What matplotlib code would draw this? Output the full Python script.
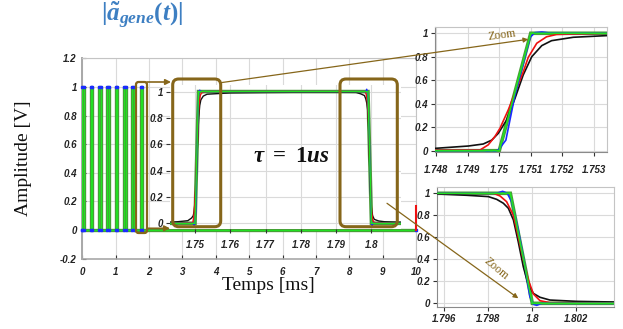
import numpy as np
import matplotlib
matplotlib.use('Agg')
import matplotlib.pyplot as plt
from matplotlib.patches import FancyBboxPatch, FancyArrowPatch
from matplotlib.transforms import Affine2D

W, H = 623, 329

# ---------------- data ----------------
# main pulse train (ms, V)
pulse_starts = [0.0, 0.25, 0.5, 0.75, 1.0, 1.25, 1.5, 1.75]
pulse_width = 0.05
pulse_amp = 1.0
t_end = 10.0
tail_t = [10.0, 10.0]
tail_red = [0.0, 0.17]

# black (slow response)
black_t = [1.7429, 1.7450, 1.74796, 1.74902, 1.74949, 1.74976, 1.74997, 1.75023, 1.7505,
           1.75076, 1.75103, 1.75135, 1.75166, 1.75235, 1.75341,
           1.7600, 1.7700, 1.7800, 1.7900,
           1.79565, 1.79702, 1.7980, 1.79838, 1.79868, 1.79891, 1.79914, 1.79936, 1.79959,
           1.79982, 1.80005, 1.80035, 1.8008, 1.80202, 1.80373, 1.8085]
black_v = [0.008, 0.012, 0.02, 0.04, 0.057, 0.09, 0.148, 0.26, 0.446,
           0.645, 0.80, 0.895, 0.937, 0.966, 0.98,
           0.99, 0.993, 0.995, 0.995,
           0.994, 0.982, 0.97, 0.945, 0.91, 0.864, 0.758, 0.56, 0.333,
           0.167, 0.09, 0.055, 0.03, 0.018, 0.012, 0.008]

# red
red_t = [1.7429, 1.74939, 1.74965, 1.74986, 1.75002, 1.75029, 1.75055, 1.75076, 1.75092,
         1.75119, 1.7515, 1.75182, 1.75341,
         1.79565, 1.79823, 1.79853, 1.79883, 1.79914, 1.79936, 1.79959, 1.79982, 1.80005,
         1.80035, 1.8008, 1.8085]
red_v = [0.0, 0.006, 0.05, 0.12, 0.19, 0.35, 0.53, 0.67, 0.795,
         0.915, 0.97, 0.99, 1.0,
         1.0, 1.0, 0.976, 0.924, 0.80, 0.606, 0.394, 0.212, 0.085,
         0.024, 0.006, 0.0]

# blue
blue_t = [1.7429, 1.74953, 1.74976, 1.74997, 1.75021, 1.7505, 1.75082, 1.75098, 1.75113,
          1.75135, 1.75161, 1.75206, 1.75341,
          1.79565, 1.79838, 1.79865, 1.79886, 1.79906, 1.79936, 1.79967, 1.79989, 1.80005,
          1.8002, 1.80042, 1.8085]
blue_v = [0.0, 0.0, -0.015, 0.006, 0.09, 0.475, 0.80, 0.966, 1.005,
          1.011, 1.002, 1.0, 1.0,
          1.0, 1.0, 1.018, 1.0, 0.924, 0.667, 0.333, 0.06, -0.009,
          -0.018, 0.0, 0.0]

# green (ideal trapezoid)
green_t = [1.7429, 1.7500, 1.7510, 1.7990, 1.8000, 1.8085]
green_v = [0.0, 0.0, 1.0, 1.0, 0.0, 0.0]

# ticks
main_xticks = [0, 1, 2, 3, 4, 5, 6, 7, 8, 9, 10]
main_yticks = [-0.2, 0, 0.2, 0.4, 0.6, 0.8, 1, 1.2]
main_ylabels = ['-0.2', '0', '0.2', '0.4', '0.6', '0.8', '1', '1.2']
in1_xticks = [1.75, 1.76, 1.77, 1.78, 1.79, 1.80]
in1_xlabels = ['1.75', '1.76', '1.77', '1.78', '1.79', '1.8']
in_yticks = [0, 0.2, 0.4, 0.6, 0.8, 1]
in_ylabels = ['0', '0.2', '0.4', '0.6', '0.8', '1']
in2_xticks = [1.748, 1.749, 1.750, 1.751, 1.752, 1.753]
in2_xlabels = ['1.748', '1.749', '1.75', '1.751', '1.752', '1.753']
in3_xticks = [1.796, 1.798, 1.800, 1.802]
in3_xlabels = ['1.796', '1.798', '1.8', '1.802']

# ---------------- style ----------------
plt.rcParams['mathtext.fontset'] = 'custom'
plt.rcParams['mathtext.rm'] = 'Liberation Serif:bold'
plt.rcParams['mathtext.it'] = 'Liberation Serif:italic:bold'
plt.rcParams['mathtext.bf'] = 'Liberation Serif:bold'

C_BLACK = '#111111'
C_RED = '#ee1111'
C_BLUE = '#1a2aff'
C_GREEN = '#22e022'
C_DGREEN = '#4a9a38'
BROWN = '#86661a'
GRID = '#dadada'
TICKFONT = dict(family='Liberation Sans', style='italic', weight='bold', size=7)

fig = plt.figure(figsize=(W / 100, H / 100), dpi=100)
fig.patch.set_facecolor('white')


def pos(l, t, r, b):
    return [l / W, 1 - b / H, (r - l) / W, (b - t) / H]


def style_axes(ax, xt, xl, yt, yl, direction='out'):
    ax.set_xticks(xt)
    ax.set_xticklabels(xl, fontdict=TICKFONT, color='#222222')
    ax.set_yticks(yt)
    ax.set_yticklabels(yl, fontdict=TICKFONT, color='#222222')
    ax.grid(True, color=GRID, lw=0.8)
    ax.set_axisbelow(True)
    ax.tick_params(direction=direction, length=3, width=0.8, color='#333333', pad=2)
    for s in ax.spines.values():
        s.set_color('#c4c4c4')
        s.set_linewidth(0.8)


# ---------------- main axes ----------------
ax = fig.add_axes(pos(82.3, 58.4, 416, 258.6))
pt, pv = [0.0], [0.0]
for s in pulse_starts:
    pt += [s, s, s + pulse_width, s + pulse_width]
    pv += [0.0, pulse_amp, pulse_amp, 0.0]
pt.append(t_end)
pv.append(0.0)
ax.plot(pt, pv, color=C_DGREEN, lw=2.4, zorder=3)
ax.plot(pt, pv, color=C_GREEN, lw=0.9, zorder=4)
ax.plot(pt, pv, ls='none', marker='s', ms=2.0, mfc=C_BLUE, mec=C_BLUE, zorder=5, clip_on=False)
ax.plot(tail_t, tail_red, color=C_RED, lw=1.5, zorder=5, clip_on=False)
ax.set_xlim(0, 10)
ax.set_ylim(-0.2, 1.2)
style_axes(ax, main_xticks, [str(v) for v in main_xticks], main_yticks, main_ylabels, direction='in')
ax.tick_params(axis='x', pad=6)
ax.tick_params(axis='y', pad=4)
ax.spines['left'].set_color('#a8a8a8')
ax.spines['left'].set_linewidth(1.4)
ax.spines['bottom'].set_color('#a8a8a8')
ax.spines['bottom'].set_linewidth(1.2)


def draw_curves(a, lw=1.1):
    a.plot(green_t, green_v, color=C_DGREEN, lw=2.6, zorder=2, solid_joinstyle='miter')
    a.plot(black_t, black_v, color=C_BLACK, lw=lw, zorder=3)
    a.plot(red_t, red_v, color=C_RED, lw=lw, zorder=4)
    a.plot(blue_t, blue_v, color=C_BLUE, lw=lw, zorder=5)
    a.plot(green_t, green_v, color=C_GREEN, lw=lw, zorder=6)


# ---------------- inset 1 (whole pulse) ----------------
a1 = fig.add_axes(pos(170, 85, 401, 228.6))
draw_curves(a1, lw=1.0)
a1.set_xlim(1.74292, 1.80836)
a1.set_ylim(-0.04, 1.05)
style_axes(a1, in1_xticks, in1_xlabels, in_yticks, in_ylabels)
a1.tick_params(axis='x', pad=5)
for s in a1.spines.values():
    s.set_visible(False)

# ---------------- inset 2 (rising edge) ----------------
a2 = fig.add_axes(pos(435, 26.7, 607, 152))
draw_curves(a2, lw=1.2)
a2.set_xlim(1.74796, 1.75342)
a2.set_ylim(-0.011, 1.056)
style_axes(a2, in2_xticks, in2_xlabels, in_yticks, in_ylabels)
a2.tick_params(axis='x', pad=6)
a2.spines['left'].set_color('#8a8a8a')
a2.spines['bottom'].set_color('#8a8a8a')

# ---------------- inset 3 (falling edge) ----------------
a3 = fig.add_axes(pos(436.7, 186.7, 614.3, 307.3))
draw_curves(a3, lw=1.2)
a3.set_xlim(1.79565, 1.80373)
a3.set_ylim(-0.036, 1.06)
style_axes(a3, in3_xticks, in3_xlabels, in_yticks, in_ylabels)
a3.spines['left'].set_color('#8a8a8a')
a3.spines['bottom'].set_color('#8a8a8a')

# ---------------- annotations (pixel coords, origin top-left) ----------------
pxT = Affine2D().scale(1 / W, -1 / H).translate(0, 1) + fig.transFigure


def rbox(x0, y0, x1, y1, r, lw):
    p = FancyBboxPatch((x0, H - y1), x1 - x0, y1 - y0,
                       boxstyle=f'round,pad=0,rounding_size={r}',
                       transform=Affine2D().scale(1 / W, 1 / H) + fig.transFigure,
                       fill=False, ec=BROWN, lw=lw, zorder=20)
    fig.add_artist(p)


rbox(136, 82, 147, 233, 2.5, 1.6)
rbox(172.7, 79, 220.7, 226.7, 6, 2.2)
rbox(340, 79, 397.3, 226.7, 6, 2.2)


def arrow(p0, p1, lw, ms):
    fa = FancyArrowPatch(p0, p1, transform=pxT, arrowstyle='-|>', mutation_scale=ms,
                         color=BROWN, lw=lw, zorder=21, shrinkA=0, shrinkB=0)
    fig.add_artist(fa)


arrow((147, 82), (171, 82), 1.2, 8)
arrow((147, 228.3), (170, 228.3), 1.2, 8)
arrow((220.7, 82.7), (528.3, 39.3), 0.9, 7)
arrow((387, 203.3), (518.3, 298.3), 0.9, 7)

fig.text(501.7 / W, 1 - 35 / H, 'Zoom', family='Liberation Serif', size=8.5, color=BROWN,
         rotation=7.5, ha='center', va='center', zorder=22)
fig.text(496.7 / W, 1 - 269 / H, 'Zoom', family='Liberation Serif', size=8.5, color=BROWN,
         rotation=-40, ha='center', va='center', zorder=22)

fig.text(142 / W, 1 - 15 / H, r'$|\tilde{a}_{gene}(t)|$', size=18, color='#3d7fc2',
         ha='center', va='center')
fig.text(291 / W, 1 - 155 / H, r'$\tau\ =\ 1us$', size=16.5, color='#111111',
         ha='center', va='center', zorder=22)

fig.text(268 / W, 1 - 285 / H, 'Temps [ms]', family='Liberation Serif', size=14,
         ha='center', va='center', color='#111111')
fig.text(23.5 / W, 1 - 158 / H, 'Amplitude [V]', family='Liberation Serif', size=14,
         rotation=90, ha='center', va='center', color='#111111')

fig.savefig('out.png', dpi=100)
